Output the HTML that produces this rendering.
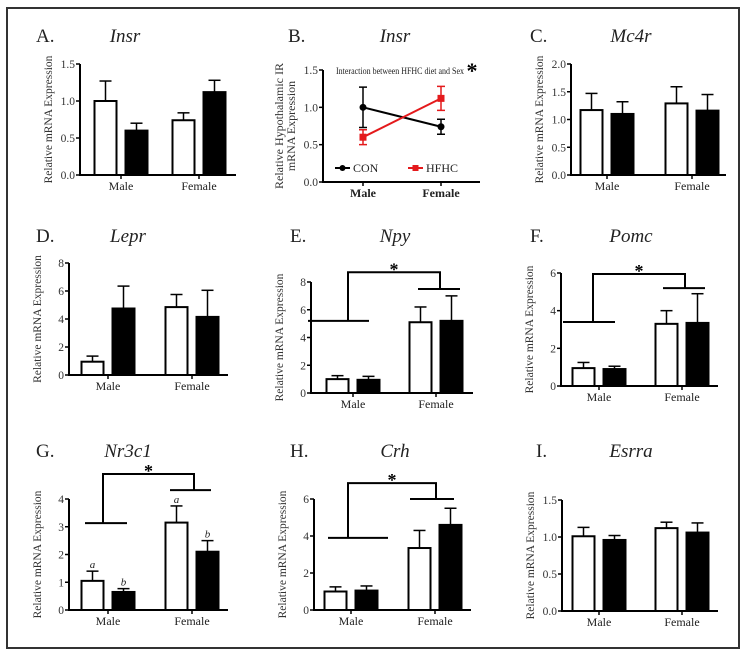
<!DOCTYPE html>
<html><head><meta charset="utf-8">
<style>
body{margin:0;background:#fff;}
svg{display:block;}
svg text{font-family:"Liberation Serif",serif;}
</style></head>
<body>
<svg id="fig" width="746" height="653" viewBox="0 0 746 653" xmlns="http://www.w3.org/2000/svg">
<rect x="7" y="8" width="732" height="640" fill="#fff" stroke="#333" stroke-width="2"/>
</svg>
<script>
// ---- data ----
const categories = ["Male","Female"];
const insrCon = [1.0, 0.74];      const insrConErr = [0.27, 0.1];
const insrHfhc = [0.6, 1.12];     const insrHfhcErr = [0.1, 0.16];
const mc4rCon = [1.17, 1.29];     const mc4rConErr = [0.3, 0.3];
const mc4rHfhc = [1.1, 1.16];     const mc4rHfhcErr = [0.22, 0.29];
const leprCon = [0.95, 4.85];     const leprConErr = [0.4, 0.9];
const leprHfhc = [4.75, 4.15];    const leprHfhcErr = [1.6, 1.9];
const npyCon = [1.0, 5.1];        const npyConErr = [0.25, 1.1];
const npyHfhc = [0.95, 5.2];      const npyHfhcErr = [0.25, 1.8];
const pomcCon = [0.95, 3.3];      const pomcConErr = [0.3, 0.7];
const pomcHfhc = [0.9, 3.35];     const pomcHfhcErr = [0.15, 1.55];
const nr3c1Con = [1.05, 3.15];    const nr3c1ConErr = [0.35, 0.6];
const nr3c1Hfhc = [0.65, 2.1];    const nr3c1HfhcErr = [0.12, 0.4];
const crhCon = [1.0, 3.35];       const crhConErr = [0.25, 0.95];
const crhHfhc = [1.05, 4.6];      const crhHfhcErr = [0.25, 0.9];
const esrraCon = [1.01, 1.12];    const esrraConErr = [0.12, 0.08];
const esrraHfhc = [0.96, 1.06];   const esrraHfhcErr = [0.06, 0.13];
const ticks15 = ["0.0","0.5","1.0","1.5"];
const ticks20 = ["0.0","0.5","1.0","1.5","2.0"];
const ticks8 = ["0","2","4","6","8"];
const ticks6 = ["0","2","4","6"];
const ticks4 = ["0","1","2","3","4"];
// bracket levels [male line, top, female line] in data units
const npyBracket = [5.2, 8.7, 7.5];
const pomcBracket = [3.4, 5.95, 5.2];
const nr3c1Bracket = [3.13, 4.9, 4.32];
const crhBracket = [3.9, 6.86, 6.0];

const NS="http://www.w3.org/2000/svg";
const svg=document.getElementById('fig');
const SERIF='"Liberation Serif", serif';
function mk(tag,attrs,parent,text){const e=document.createElementNS(NS,tag);for(const k in attrs)e.setAttribute(k,attrs[k]);if(tag==='text'&&!attrs['font-family'])e.setAttribute('font-family',SERIF);if(text!==undefined)e.textContent=text;(parent||svg).appendChild(e);return e;}

function axes(g,c,ticks,boldX){
  const ax=c.ax,y0=c.y0,yT=c.yT,max=+ticks[ticks.length-1];
  const ys=v=>y0-(v/max)*(y0-yT);
  const l1=mk('line',{x1:ax,y1:yT,x2:ax,y2:y0+1,stroke:'#000','stroke-width':2},g);
  
  
  const l2=mk('line',{x1:ax-1,y1:y0,x2:c.xEnd,y2:y0,stroke:'#000','stroke-width':2},g);
  
  
  ticks.forEach(t=>{const y=ys(+t);
    const tk=mk('line',{x1:ax-4,y1:y,x2:ax,y2:y,stroke:'#000','stroke-width':1.5},g);
    
    
    const tl=mk('text',{x:ax-5,y:y+4,'font-size':11.5,'text-anchor':'end',fill:'#333'},g,t);
    
    
  });
  categories.forEach((cat,i)=>{const x=c.cx[i];
    const tk=mk('line',{x1:x,y1:y0,x2:x,y2:y0+4,stroke:'#000','stroke-width':1.5},g);
    
    
    const tl=mk('text',{x:x,y:y0+15,'font-size':boldX?12:12,'font-weight':boldX?'bold':'normal','text-anchor':'middle',fill:'#222'},g,cat);
    
    
  });
  const yt=(y0+yT)/2;
  if(c.ylines){
    c.ylines.forEach((s,i)=>{const t=mk('text',{x:0,y:0,'font-size':12,'text-anchor':'middle',fill:'#333',transform:`translate(${ax-40+i*12},${yt}) rotate(-90)`},g,s);
      
      });
  } else {
    const t=mk('text',{x:0,y:0,'font-size':11.5,'text-anchor':'middle',fill:'#333',transform:`translate(${ax-28},${yt}) rotate(-90)`},g,'Relative mRNA Expression');
    
    
  }
  const L=mk('text',{x:c.lx,y:c.ty,'font-size':19,fill:'#222'},g,c.letter);
  
  
  const G=mk('text',{x:c.gx,y:c.ty,'font-size':19,'font-style':'italic','text-anchor':'middle',fill:'#222'},g,c.gene);
  
  
  return ys;
}

function barPanel(name,c,ticks,con,conErr,hf,hfErr,bracket,letters){
  const g=mk('g',{});
  
  
  const ys=axes(g,c,ticks,false);
  const w=22,off=15.5;
  [[con,conErr,'#fff',-1,'con'],[hf,hfErr,'#000',1,'hfhc']].forEach(([vals,errs,fill,s,sn])=>{
    vals.forEach((v,i)=>{
      const xc=c.cx[i]+s*off, y=ys(v), ye=ys(v+errs[i]);
      const el=mk('line',{x1:xc,y1:y,x2:xc,y2:ye,stroke:'#000','stroke-width':1.5},g);
      
      
      const cap=mk('line',{x1:xc-6,y1:ye,x2:xc+6,y2:ye,stroke:'#000','stroke-width':1.5},g);
      
      
      const b=mk('rect',{x:xc-w/2,y:y,width:w,height:c.y0-y,fill:fill,stroke:'#000','stroke-width':2},g);
      
      
      if(letters){const t=mk('text',{x:xc,y:ye-3,'font-size':11,'font-style':'italic','text-anchor':'middle',fill:'#222'},g,letters[s<0?0:1]);
        
        }
    });
  });
  if(bracket){
    const m=ys(bracket[0]),t=ys(bracket[1]),f=ys(bracket[2]);
    const b=c.br;
    const p=mk('path',{d:`M${b[0]},${m}H${b[1]}M${b[2]},${m}V${t}H${b[3]}V${f}M${b[4]},${f}H${b[5]}`,fill:'none',stroke:'#000','stroke-width':2},g);
    
    
    const st=mk('text',{x:(b[2]+b[3])/2,y:t+3,'font-size':18,'font-weight':'bold','text-anchor':'middle',fill:'#000','font-family':'"Liberation Sans",sans-serif'},g,'*');
    
    
  }
}

barPanel('panel-a-insr',{ax:80,yT:64,y0:175,xEnd:236,cx:[121,199],letter:'A.',gene:'Insr',lx:36,gx:125,ty:42},ticks15,insrCon,insrConErr,insrHfhc,insrHfhcErr);
barPanel('panel-c-mc4r',{ax:571,yT:64,y0:175,xEnd:726,cx:[607,692],letter:'C.',gene:'Mc4r',lx:530,gx:631,ty:42},ticks20,mc4rCon,mc4rConErr,mc4rHfhc,mc4rHfhcErr);
barPanel('panel-d-lepr',{ax:69,yT:263,y0:375,xEnd:228,cx:[108,192],letter:'D.',gene:'Lepr',lx:36,gx:128,ty:242},ticks8,leprCon,leprConErr,leprHfhc,leprHfhcErr);
barPanel('panel-e-npy',{ax:311,yT:282,y0:393,xEnd:473,cx:[353,436],letter:'E.',gene:'Npy',lx:290,gx:395,ty:242,br:[308,369,348,440,418,460]},ticks8,npyCon,npyConErr,npyHfhc,npyHfhcErr,npyBracket);
barPanel('panel-f-pomc',{ax:561,yT:273,y0:386,xEnd:718,cx:[599,682],letter:'F.',gene:'Pomc',lx:530,gx:631,ty:242,br:[563,615,593,685,663,705]},ticks6,pomcCon,pomcConErr,pomcHfhc,pomcHfhcErr,pomcBracket);
barPanel('panel-g-nr3c1',{ax:69,yT:499,y0:610,xEnd:228,cx:[108,192],letter:'G.',gene:'Nr3c1',lx:36,gx:128,ty:457,br:[85,127,103,194,170,211]},ticks4,nr3c1Con,nr3c1ConErr,nr3c1Hfhc,nr3c1HfhcErr,nr3c1Bracket,['a','b']);
barPanel('panel-h-crh',{ax:314,yT:499,y0:610,xEnd:471,cx:[351,435],letter:'H.',gene:'Crh',lx:290,gx:395,ty:457,br:[328,388,348,436,410,454]},ticks6,crhCon,crhConErr,crhHfhc,crhHfhcErr,crhBracket);
barPanel('panel-i-esrra',{ax:562,yT:500,y0:611,xEnd:718,cx:[599,682],letter:'I.',gene:'Esrra',lx:536,gx:631,ty:457},ticks15,esrraCon,esrraConErr,esrraHfhc,esrraHfhcErr);

(function(){
  const g=mk('g',{});
  
  
  const c={ax:323,yT:70,y0:182,xEnd:480,cx:[363,441],letter:'B.',gene:'Insr',lx:288,gx:395,ty:42,ylines:['Relative Hypothalamic IR','mRNA Expression']};
  const ys=axes(g,c,ticks15,true);
  [[insrCon,insrConErr,'#000','con'],[insrHfhc,insrHfhcErr,'#e41a1c','hfhc']].forEach(([v,e,col,sn])=>{
    const ln=mk('line',{x1:c.cx[0],y1:ys(v[0]),x2:c.cx[1],y2:ys(v[1]),stroke:col,'stroke-width':2},g);
    
    
    v.forEach((val,i)=>{const x=c.cx[i],lo=ys(val-e[i]),hi=ys(val+e[i]);
      const eb=mk('path',{d:`M${x},${lo}V${hi}M${x-4},${lo}H${x+4}M${x-4},${hi}H${x+4}`,stroke:col,'stroke-width':1.5,fill:'none'},g);
      
      
      const pt=sn==='con'?mk('circle',{cx:x,cy:ys(val),r:3.5,fill:col},g):mk('rect',{x:x-3.5,y:ys(val)-3.5,width:7,height:7,fill:col},g);
      
      
    });
  });
  const t=mk('text',{x:336,y:74,'font-size':9.5,textLength:128,lengthAdjust:'spacingAndGlyphs',fill:'#222'},g,'Interaction between HFHC diet and Sex');
  
  
  const st=mk('text',{x:472,y:78,'font-size':22,'font-weight':'bold','text-anchor':'middle',fill:'#000','font-family':'"Liberation Sans",sans-serif'},g,'*');
  
  
  [['CON','#000',335,'circle'],['HFHC','#e41a1c',408,'rect']].forEach(([lab,col,x,sh])=>{
    const lg=mk('g',{},g);
    
    
    mk('line',{x1:x,y1:168,x2:x+15,y2:168,stroke:col,'stroke-width':2},lg);
    if(sh==='circle')mk('circle',{cx:x+7.5,cy:168,r:3,fill:col},lg);else mk('rect',{x:x+4.5,y:165,width:6,height:6,fill:col},lg);
    mk('text',{x:x+18,y:172,'font-size':12,fill:'#222'},lg,lab);
  });
})();
</script>
</body></html>
